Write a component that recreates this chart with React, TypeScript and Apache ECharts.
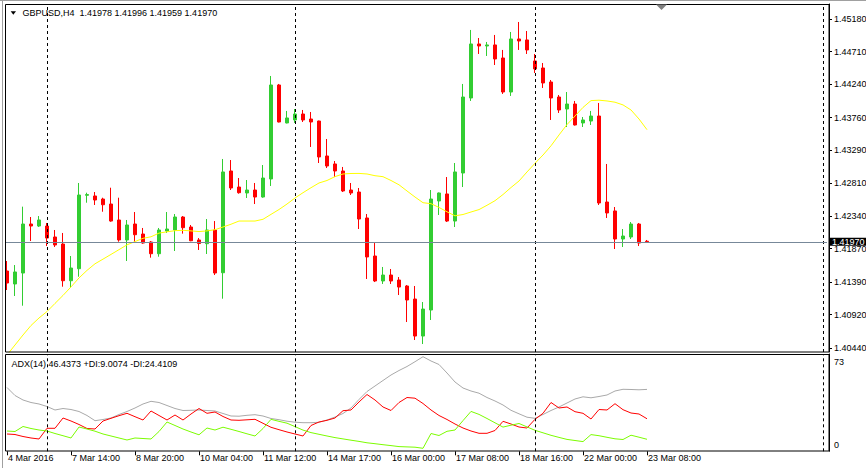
import React, { useEffect, useRef } from 'react';
import * as echarts from 'echarts';

const symbolName = 'GBPUSD,H4';
const tickLabels = ['4 Mar 2016', '7 Mar 14:00', '8 Mar 20:00', '10 Mar 04:00', '11 Mar 12:00', '14 Mar 17:00', '16 Mar 00:00', '17 Mar 08:00', '18 Mar 16:00', '22 Mar 00:00', '23 Mar 08:00'];
const labelEvery = 8;
const slotCount = 103;
const weekStarts = [5, 36, 66, 102];
const priceTicks = [1.4518, 1.4471, 1.4424, 1.4376, 1.4329, 1.4281, 1.4234, 1.4187, 1.4139, 1.4092, 1.4044];
const priceMin = 1.40382;
const priceMax = 1.45396;
const adxMax = 73;

const opens = [
  1.41549, 1.41362, 1.41520, 1.42226, 1.42197, 1.42197, 1.42039, 1.41938, 1.41409, 1.41582,
  1.42640, 1.42630, 1.42586, 1.42514, 1.42284, 1.41996, 1.42226, 1.42082, 1.41967, 1.41798,
  1.42125, 1.42140, 1.42327, 1.42183, 1.41996, 1.41942, 1.42140, 1.41524, 1.42990, 1.42759,
  1.42673, 1.42716, 1.42615, 1.42875, 1.44229, 1.43682, 1.43725, 1.43811, 1.43739, 1.43710,
  1.43206, 1.43091, 1.42990, 1.42716, 1.42687, 1.42313, 1.41765, 1.41405, 1.41491, 1.41419,
  1.41333, 1.41145, 1.40612, 1.40987, 1.42558, 1.42659, 1.42269, 1.42961, 1.44042, 1.44820,
  1.44791, 1.44806, 1.44618, 1.44128, 1.44892, 1.44878, 1.44575, 1.44474, 1.44272, 1.44056,
  1.43883, 1.43955, 1.43682, 1.43710, 1.43782, 1.42543, 1.42414, 1.42010, 1.42039, 1.42226,
  1.41978,
];
const highs = [
  1.41693, 1.41635, 1.42476, 1.42327, 1.42341, 1.42241, 1.42140, 1.42097, 1.41765, 1.42817,
  1.42677, 1.42687, 1.42605, 1.42749, 1.42605, 1.42284, 1.42399, 1.42169, 1.41981, 1.42169,
  1.42399, 1.42370, 1.42341, 1.42212, 1.42024, 1.42298, 1.42269, 1.43163, 1.43148, 1.42889,
  1.42860, 1.42817, 1.43076, 1.44359, 1.44244, 1.43855, 1.43883, 1.43869, 1.43840, 1.43715,
  1.43451, 1.43134, 1.43048, 1.42817, 1.42745, 1.42370, 1.41952, 1.41607, 1.41578, 1.41462,
  1.41347, 1.41333, 1.41102, 1.42716, 1.42680, 1.42903, 1.43105, 1.44244, 1.45022, 1.44906,
  1.44849, 1.44950, 1.44734, 1.44993, 1.45137, 1.45007, 1.44676, 1.44546, 1.44301, 1.44085,
  1.44128, 1.43999, 1.43768, 1.43855, 1.43970, 1.43091, 1.42471, 1.42154, 1.42255, 1.42241,
  1.41996,
];
const lows = [
  1.41275, 1.41189, 1.41049, 1.41981, 1.42183, 1.41909, 1.41895, 1.41323, 1.41304, 1.41467,
  1.42533, 1.42500, 1.42403, 1.42259, 1.41971, 1.41693, 1.41967, 1.41942, 1.41741, 1.41755,
  1.42097, 1.41837, 1.42087, 1.41978, 1.41852, 1.41794, 1.41491, 1.41150, 1.42716, 1.42663,
  1.42601, 1.42514, 1.42605, 1.42774, 1.43690, 1.43676, 1.43682, 1.43696, 1.43336, 1.43105,
  1.43033, 1.42903, 1.42687, 1.42644, 1.42154, 1.41434, 1.41390, 1.41362, 1.41362, 1.41203,
  1.40814, 1.40555, 1.40497, 1.40843, 1.42356, 1.42255, 1.42183, 1.42759, 1.43999, 1.44676,
  1.44647, 1.44517, 1.44100, 1.44071, 1.44734, 1.44676, 1.44402, 1.44186, 1.43725, 1.43826,
  1.43624, 1.43645, 1.43624, 1.43653, 1.42500, 1.42313, 1.41866, 1.41895, 1.42010, 1.41909,
  1.41959,
];
const closes = [
  1.41376, 1.41535, 1.42226, 1.42197, 1.42284, 1.42024, 1.41924, 1.41409, 1.41592, 1.42644,
  1.42650, 1.42572, 1.42504, 1.42269, 1.41996, 1.42212, 1.42072, 1.41952, 1.41798, 1.42140,
  1.42154, 1.42327, 1.42173, 1.41985, 1.41945, 1.42140, 1.41520, 1.42976, 1.42745, 1.42677,
  1.42716, 1.42615, 1.42889, 1.44229, 1.43696, 1.43754, 1.43811, 1.43725, 1.43696, 1.43192,
  1.43062, 1.42990, 1.42702, 1.42673, 1.42298, 1.41751, 1.41405, 1.41491, 1.41405, 1.41318,
  1.41131, 1.40612, 1.41001, 1.42586, 1.42673, 1.42269, 1.42976, 1.44056, 1.44820, 1.44791,
  1.44806, 1.44604, 1.44128, 1.44892, 1.44863, 1.44734, 1.44460, 1.44258, 1.44042, 1.43869,
  1.43955, 1.43653, 1.43725, 1.43782, 1.42529, 1.42385, 1.42010, 1.42053, 1.42226, 1.41952,
  1.41970,
];
const movingAverage = [
  1.40338, 1.40483, 1.40627, 1.40764, 1.40872, 1.40965, 1.41082, 1.41197, 1.41320, 1.41449,
  1.41558, 1.41653, 1.41720, 1.41788, 1.41857, 1.41926, 1.41973, 1.42020, 1.42042, 1.42095,
  1.42114, 1.42130, 1.42135, 1.42127, 1.42117, 1.42127, 1.42144, 1.42183, 1.42223, 1.42269,
  1.42269, 1.42269, 1.42294, 1.42365, 1.42435, 1.42514, 1.42601, 1.42677, 1.42749, 1.42817,
  1.42853, 1.42909, 1.42947, 1.42954, 1.42955, 1.42947, 1.42922, 1.42908, 1.42853, 1.42791,
  1.42702, 1.42615, 1.42533, 1.42519, 1.42465, 1.42402, 1.42344, 1.42363, 1.42399, 1.42434,
  1.42496, 1.42562, 1.42651, 1.42752, 1.42846, 1.42976, 1.43101, 1.43220, 1.43353, 1.43509,
  1.43659, 1.43782, 1.43906, 1.44004, 1.44010, 1.43999, 1.43981, 1.43942, 1.43869, 1.43739,
  1.43585,
];
const adx = [
  47.87, 41.86, 38.49, 36.61, 35.49, 33.61, 30.99, 32.11, 31.36, 29.86,
  26.86, 22.96, 23.86, 24.98, 27.61, 29.86, 32.49, 35.49, 37.51, 36.61,
  34.36, 32.11, 30.61, 30.76, 30.99, 30.61, 30.24, 28.36, 26.48, 26.33,
  27.01, 27.46, 26.48, 24.61, 23.71, 22.58, 21.83, 21.46, 21.46, 21.76,
  23.48, 25.73, 28.36, 32.49, 38.86, 44.86, 48.99, 53.12, 57.24, 60.62,
  63.62, 67.22, 70.97, 67.75, 65.12, 58.74, 51.99, 47.49, 45.24, 43.59,
  40.36, 37.74, 34.74, 30.76, 28.13, 25.58, 24.76, 27.61, 30.61, 33.24,
  36.24, 39.24, 40.89, 40.14, 41.11, 42.24, 45.24, 46.52, 46.37, 46.14,
  46.4373,
];
const plusDI = [
  15.23, 14.85, 18.61, 17.11, 15.98, 15.23, 13.35, 11.70, 9.98, 18.23,
  16.73, 15.08, 12.98, 11.48, 9.98, 8.48, 9.98, 9.60, 9.23, 14.85,
  21.98, 19.36, 16.73, 14.48, 12.38, 17.48, 15.98, 18.08, 16.50, 14.86,
  13.13, 11.48, 17.10, 23.98, 22.48, 21.08, 18.53, 15.90, 14.03, 12.75,
  11.48, 10.28, 9.30, 8.33, 7.43, 6.38, 5.71, 4.95, 4.28, 3.53,
  3.30, 3.08, 2.25, 13.35, 11.85, 15.00, 15.98, 23.03, 29.93, 27.68,
  24.60, 21.38, 18.15, 19.58, 20.86, 18.30, 15.75, 13.88, 12.00, 10.43,
  8.93, 8.10, 7.28, 12.53, 11.70, 10.50, 9.38, 8.85, 12.08, 10.58,
  9.0074,
];
const minusDI = [
  12.98, 12.60, 11.10, 9.98, 9.23, 17.26, 17.26, 24.98, 22.73, 20.11,
  17.11, 16.73, 22.73, 24.76, 26.71, 28.51, 25.96, 23.48, 30.24, 26.86,
  23.48, 27.23, 23.48, 27.98, 32.11, 28.51, 29.48, 26.11, 23.48, 23.26,
  23.63, 24.01, 21.01, 18.01, 16.21, 14.48, 12.98, 11.48, 19.36, 21.98,
  23.26, 24.98, 30.46, 30.99, 36.99, 42.61, 38.49, 33.24, 30.61, 36.61,
  40.36, 39.84, 35.86, 30.99, 26.86, 23.86, 20.48, 17.48, 15.23, 13.50,
  13.50, 15.61, 22.51, 20.48, 18.23, 17.48, 24.01, 28.51, 36.61, 32.49,
  33.24, 29.71, 28.51, 24.23, 31.36, 30.99, 35.71, 31.21, 28.73, 27.98,
  24.4109,
];

const FONT = "'Liberation Sans', Arial, sans-serif";
const FS = 9;

export default function App() {
  const ref = useRef<HTMLDivElement>(null);
  useEffect(() => {
    const chart = echarts.init(ref.current as HTMLDivElement, null, { renderer: 'svg' });
    const cats = Array.from({ length: slotCount }, (_, i) => String(i));
    const showLabel = (i: number) => i % labelEvery === 0 && i / labelEvery < tickLabels.length;
    const last = closes.length - 1;
    const header = `${symbolName}  ${opens[last].toFixed(5)} ${highs[last].toFixed(5)} ${lows[last].toFixed(5)} ${closes[last].toFixed(5)}`;
    const adxText = `ADX(14) ${adx[last].toFixed(4)} +DI:${plusDI[last].toFixed(4)} -DI:${minusDI[last].toFixed(4)}`;
    const candles = opens.map((o, i) => [o, closes[i], lows[i], highs[i]]);
    const sepLine = { type: [3, 3], color: '#000', width: 1 };
    const labelBase = { color: '#000', fontSize: FS, fontFamily: FONT };

    const option: any = {
      animation: false,
      backgroundColor: '#ffffff',
      textStyle: { fontFamily: FONT },
      grid: [
        { left: 3, top: 4, width: 824, height: 348, outerBoundsMode: 'none', containLabel: false },
        { left: 3, top: 354, width: 824, height: 97.3, outerBoundsMode: 'none', containLabel: false },
      ],
      xAxis: [
        { type: 'category', gridIndex: 0, data: cats, boundaryGap: true, show: false },
        {
          type: 'category', gridIndex: 1, data: cats, boundaryGap: true,
          axisLine: { show: false },
          axisTick: { show: true, alignWithLabel: true, interval: (i: number) => showLabel(i), length: 4, lineStyle: { color: '#000' } },
          axisLabel: {
            ...labelBase, show: true, interval: (i: number) => showLabel(i),
            formatter: (v: string) => tickLabels[Number(v) / labelEvery] ?? '',
            align: 'left', margin: 2, padding: [0, 0, 0, 1],
          },
          splitLine: { show: false },
        },
      ],
      yAxis: [
        {
          type: 'value', gridIndex: 0, min: priceMin, max: priceMax, position: 'right', offset: 2,
          axisLine: { show: true, lineStyle: { color: '#000' } },
          axisTick: { show: true, customValues: priceTicks, length: 3, lineStyle: { color: '#000' } },
          axisLabel: { ...labelBase, customValues: priceTicks, formatter: (v: number) => v.toFixed(5), margin: 5 },
          splitLine: { show: false },
        },
        {
          type: 'value', gridIndex: 1, min: 0, max: adxMax, position: 'right', offset: 2,
          axisLine: { show: true, lineStyle: { color: '#000' } },
          axisTick: { show: false },
          axisLabel: { ...labelBase, customValues: [adxMax], verticalAlign: 'top', margin: 5, padding: [3, 0, 0, 0] },
          splitLine: { show: false },
        },
        {
          type: 'value', gridIndex: 1, min: 0, max: adxMax, position: 'right', offset: 2,
          axisLine: { show: false },
          axisTick: { show: false },
          axisLabel: { ...labelBase, customValues: [0], verticalAlign: 'bottom', margin: 5, padding: [0, 0, 2, 0] },
          splitLine: { show: false },
        },
      ],
      series: [
        {
          type: 'line', xAxisIndex: 0, yAxisIndex: 0, data: [], z: 1, silent: true,
          markLine: {
            symbol: ['none', 'none'], silent: true, animation: false, precision: 5,
            data: [
              ...weekStarts.map((i) => ({ xAxis: i, lineStyle: sepLine, label: { show: false } })),
              {
                yAxis: closes[last],
                lineStyle: { color: '#778899', width: 1, type: 'solid' },
                label: {
                  show: true, position: 'end', distance: 2,
                  formatter: (p: any) => Number(p.value).toFixed(5),
                  backgroundColor: '#000', color: '#fff', fontSize: FS, fontFamily: FONT,
                  padding: [0, 4, 0, 3], lineHeight: 8,
                },
              },
            ],
          },
        },
        {
          type: 'candlestick', xAxisIndex: 0, yAxisIndex: 0, data: candles, barWidth: 4, z: 3,
          itemStyle: { color: '#32CD32', color0: '#FF0000', borderColor: '#32CD32', borderColor0: '#FF0000', borderWidth: 1 },
        },
        {
          type: 'line', xAxisIndex: 0, yAxisIndex: 0, data: movingAverage, symbol: 'none', z: 4,
          lineStyle: { color: '#FFFF00', width: 1 }, clip: true,
        },
        {
          type: 'line', xAxisIndex: 1, yAxisIndex: 1, data: [], z: 1, silent: true,
          markLine: {
            symbol: ['none', 'none'], silent: true, animation: false,
            data: weekStarts.map((i) => ({ xAxis: i, lineStyle: sepLine, label: { show: false } })),
          },
        },
        { type: 'line', xAxisIndex: 1, yAxisIndex: 1, data: adx, symbol: 'none', z: 3, lineStyle: { color: '#a9a9a9', width: 1 } },
        { type: 'line', xAxisIndex: 1, yAxisIndex: 1, data: minusDI, symbol: 'none', z: 3, lineStyle: { color: '#FF0000', width: 1 } },
        { type: 'line', xAxisIndex: 1, yAxisIndex: 1, data: plusDI, symbol: 'none', z: 3, lineStyle: { color: '#7CFC00', width: 1 } },
      ],
      graphic: [
        { type: 'rect', z: 100, shape: { x: 0, y: 0, width: 5.5, height: 468 }, style: { fill: '#fff' } },
        { type: 'line', z: 101, shape: { x1: 0, y1: 0.5, x2: 866, y2: 0.5 }, style: { stroke: '#a0a0a0', lineWidth: 1 } },
        { type: 'line', z: 101, shape: { x1: 2.5, y1: 0, x2: 2.5, y2: 468 }, style: { stroke: '#a0a0a0', lineWidth: 1 } },
        { type: 'rect', z: 101, shape: { x: 5.5, y: 4.5, width: 823.5, height: 347.5 }, style: { fill: 'none', stroke: '#000', lineWidth: 1 } },
        { type: 'rect', z: 101, shape: { x: 5.5, y: 354.5, width: 823.5, height: 96.5 }, style: { fill: 'none', stroke: '#000', lineWidth: 1 } },
        { type: 'polygon', z: 101, shape: { points: [[10.7, 11.3], [16, 11.3], [13.3, 14.7]] }, style: { fill: '#000' } },
        { type: 'polygon', z: 101, shape: { points: [[656, 4.5], [667, 4.5], [661.5, 10]] }, style: { fill: '#808080' } },
        { type: 'text', z: 101, x: 22.5, y: 13.3, style: { text: header, fill: '#000', fontSize: FS, fontFamily: FONT, verticalAlign: 'middle', align: 'left' } },
        { type: 'text', z: 101, x: 11.5, y: 363.5, style: { text: adxText, fill: '#000', fontSize: FS, fontFamily: FONT, verticalAlign: 'middle', align: 'left' } },
      ],
    };
    chart.setOption(option);
    return () => chart.dispose();
  }, []);
  return <div ref={ref} style={{ position: 'fixed', left: 0, top: 0, width: 866, height: 468 }} />;
}
